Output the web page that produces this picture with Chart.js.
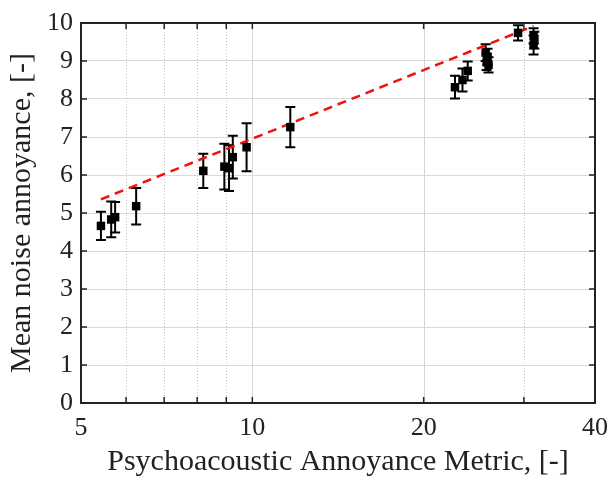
<!DOCTYPE html>
<html>
<head>
<meta charset="utf-8">
<script src="https://cdn.jsdelivr.net/npm/chart.js@4/dist/chart.umd.min.js"></script>
<style>
  html, body { margin: 0; padding: 0; background: #fff; }
  #wrap { width: 611px; height: 482px; }
</style>
</head>
<body>
<div id="wrap"><canvas id="myChart" width="611" height="482"></canvas></div>
<script>
// psychoacoustic annoyance metric (x) vs mean annoyance (y) with +/- error
const metricValues = [5.42, 5.65, 5.74, 6.25, 8.2, 8.93, 9.1, 9.24, 9.77, 11.66,
                      22.7, 23.4, 23.9, 25.7, 25.9, 25.8, 26.0, 29.3, 31.2, 31.3, 31.2];
const annoyanceValues = [4.66, 4.83, 4.89, 5.18, 6.11, 6.22, 6.18, 6.47, 6.73, 7.26,
                         8.31, 8.5, 8.74, 9.22, 9.1, 8.98, 8.9, 9.74, 9.66, 9.55, 9.42];
const annoyanceErrors = [0.37, 0.47, 0.40, 0.48, 0.45, 0.6, 0.6, 0.56, 0.63, 0.53,
                         0.3, 0.3, 0.25, 0.22, 0.22, 0.22, 0.2, 0.2, 0.2, 0.22, 0.25];

// regression line end points
const fitX = [5.42, 31.2];
const fitY = [5.36, 9.92];

// tick values
const xTickValues = [5, 6, 7, 8, 9, 10, 20, 30, 40];
const xTickLabels = [5, 10, 20, 40];
const yTickValues = [0, 1, 2, 3, 4, 5, 6, 7, 8, 9, 10];

const fontFamily = "'Liberation Serif', 'Times New Roman', serif";
const textColor = "#222";

const scatterData = metricValues.map((x, i) => ({ x: x, y: annoyanceValues[i], err: annoyanceErrors[i] }));
const fitData = fitX.map((x, i) => ({ x: x, y: fitY[i] }));

// grid on x (dotted minor, solid major), error bars, inward ticks, box
const decorPlugin = {
  id: "decor",
  beforeDatasetsDraw(chart) {
    const ctx = chart.ctx;
    const area = chart.chartArea;
    const xs = chart.scales.x;
    const ys = chart.scales.y;
    ctx.save();
    ctx.lineWidth = 1;
    xTickValues.forEach(v => {
      if (v === 5 || v === 40) return;
      const px = Math.round(xs.getPixelForValue(v)) + 0.5;
      const major = xTickLabels.includes(v);
      ctx.strokeStyle = major ? "#d6d6d6" : "#c4c4c4";
      ctx.setLineDash(major ? [] : [1, 2]);
      ctx.beginPath();
      ctx.moveTo(px, area.top);
      ctx.lineTo(px, area.bottom);
      ctx.stroke();
    });
    ctx.setLineDash([]);

    // error bars
    ctx.strokeStyle = "#000";
    ctx.lineWidth = 2;
    scatterData.forEach(d => {
      const px = xs.getPixelForValue(d.x);
      const top = ys.getPixelForValue(d.y + d.err);
      const bot = ys.getPixelForValue(d.y - d.err);
      ctx.beginPath();
      ctx.moveTo(px, top);
      ctx.lineTo(px, bot);
      ctx.moveTo(px - 5, top);
      ctx.lineTo(px + 5, top);
      ctx.moveTo(px - 5, bot);
      ctx.lineTo(px + 5, bot);
      ctx.stroke();
    });
    ctx.restore();
  },
  afterDraw(chart) {
    const ctx = chart.ctx;
    const area = chart.chartArea;
    const xs = chart.scales.x;
    const ys = chart.scales.y;
    const tl = 6;
    ctx.save();
    ctx.strokeStyle = "#222";
    ctx.lineWidth = 1.5;
    ctx.beginPath();
    xTickValues.forEach(v => {
      const px = xs.getPixelForValue(v);
      ctx.moveTo(px, area.bottom);
      ctx.lineTo(px, area.bottom - tl);
      ctx.moveTo(px, area.top);
      ctx.lineTo(px, area.top + tl);
    });
    yTickValues.forEach(v => {
      const py = ys.getPixelForValue(v);
      ctx.moveTo(area.left, py);
      ctx.lineTo(area.left + tl, py);
      ctx.moveTo(area.right, py);
      ctx.lineTo(area.right - tl, py);
    });
    ctx.stroke();
    ctx.lineWidth = 2;
    ctx.strokeRect(area.left, area.top, area.right - area.left, area.bottom - area.top);
    ctx.restore();
  }
};

const ctx = document.getElementById("myChart").getContext("2d");
const myChart = new Chart(ctx, {
  type: "scatter",
  data: {
    datasets: [
      {
        label: "Fit",
        type: "line",
        data: fitData,
        borderColor: "#f01010",
        borderWidth: 2.5,
        borderDash: [9, 6],
        pointRadius: 0,
        fill: false,
        order: 2
      },
      {
        label: "Data",
        data: scatterData,
        pointStyle: "rect",
        pointRadius: 6,
        backgroundColor: "#000",
        borderColor: "#000",
        borderWidth: 0,
        order: 1
      }
    ]
  },
  options: {
    responsive: false,
    animation: false,
    layout: { padding: { top: 23, right: 16, left: 0, bottom: 0 } },
    plugins: {
      legend: { display: false },
      tooltip: { enabled: false }
    },
    scales: {
      x: {
        type: "logarithmic",
        min: 5,
        max: 40,
        afterBuildTicks: s => { s.ticks = xTickValues.map(v => ({ value: v })); },
        afterFit: s => { s.height = 79; s.paddingLeft = 0; s.paddingRight = 0; },
        grid: { display: false, drawTicks: false },
        border: { display: false },
        ticks: {
          autoSkip: false,
          maxRotation: 0,
          padding: 10,
          color: textColor,
          font: { family: fontFamily, size: 26 },
          callback: v => xTickLabels.includes(v) ? String(v) : ""
        },
        title: {
          display: true,
          text: "Psychoacoustic Annoyance Metric, [-]",
          color: textColor,
          font: { family: fontFamily, size: 30 },
          padding: { top: 0, bottom: 2 }
        }
      },
      y: {
        min: 0,
        max: 10,
        afterBuildTicks: s => { s.ticks = yTickValues.map(v => ({ value: v })); },
        afterFit: s => { s.width = 81; s.paddingTop = 0; s.paddingBottom = 0; },
        grid: { color: "#d9d9d9", lineWidth: 1, drawTicks: false },
        border: { display: false },
        ticks: {
          padding: 8,
          color: textColor,
          font: { family: fontFamily, size: 26 }
        },
        title: {
          display: true,
          text: "Mean noise annoyance, [-]",
          color: textColor,
          font: { family: fontFamily, size: 30 },
          padding: { top: 4, bottom: 4 }
        }
      }
    }
  },
  plugins: [decorPlugin]
});
</script>
</body>
</html>
